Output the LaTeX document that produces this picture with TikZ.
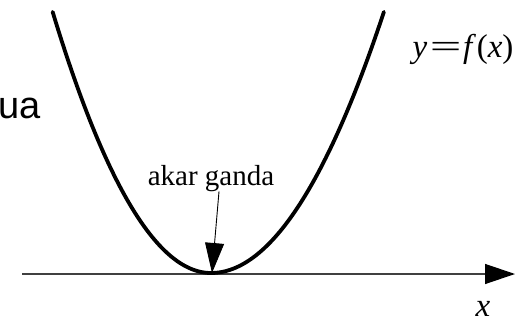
\documentclass[tikz,border=0pt]{standalone}
\usepackage{fontspec}
\usepackage{graphicx}
\setmainfont{Liberation Serif}
\newfontfamily\sansf{Liberation Sans}
\usetikzlibrary{arrows.meta}
\tikzset{
  curve/.style={line width=3.8pt, line cap=round, black},
  axisline/.style={line width=1.3pt, black!75, -{Triangle[length=30pt,width=20pt,fill=black,color=black]}},
  pointer/.style={line width=0.9pt, black, -{Triangle[length=30pt,width=19pt]}},
  serif/.style={inner sep=0pt, font=\fontsize{29}{32}\selectfont},
  mathlbl/.style={inner sep=0pt, font=\fontsize{33}{36}\selectfont},
}
\begin{document}
\begin{tikzpicture}[x=1pt,y=-1pt]
\useasboundingbox (0,0) rectangle (518,323);
% x axis
\coordinate (axL) at (22,274);
\coordinate (axR) at (515,274);
\draw[axisline] (axL) -- (axR);
% parabola
\draw[curve] plot[domain=-16.16:16.16, samples=120, variable=\t, smooth]
  ({211 + ifthenelse(\t<0, 9.8, 10.7)*\t}, {273 - \t*\t});
\coordinate (root) at (212,273);
% labels
\node[serif, anchor=base] (lbl) at (211,185) {akar ganda};
\node[mathlbl, anchor=base] (fx) at (463,58) {\textit{y}\kern0.08em\scalebox{1.7}[1]{=}\kern0.05em\textit{f}\kern0.02em(\textit{x})};
\node[mathlbl, anchor=base] (xl) at (483,316) {\textit{x}};
\node[inner sep=0pt, anchor=base west, font=\sansf\fontsize{38}{40}\selectfont] (ua) at (-1.5,119) {ua};
% pointer
\draw[pointer] ([xshift=8pt]lbl.south) -- (root);
\end{tikzpicture}
\end{document}
